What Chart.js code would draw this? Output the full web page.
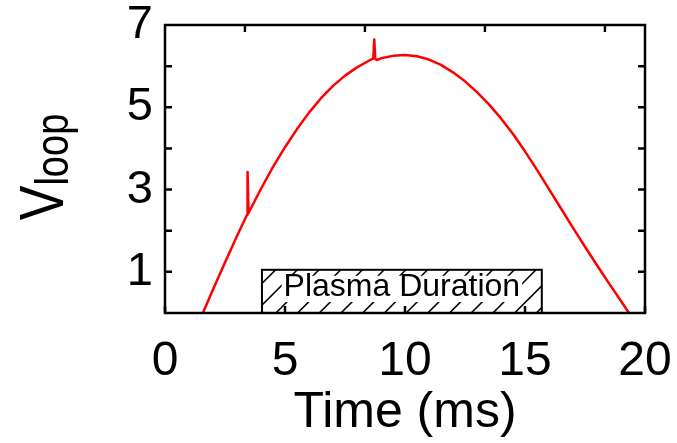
<!DOCTYPE html>
<html><head><meta charset="utf-8">
<script src="https://cdn.jsdelivr.net/npm/chart.js@4"></script>
<style>html,body{margin:0;padding:0;background:#fff}</style>
</head><body>
<canvas id="c" width="677" height="443"></canvas>
<script>
// ---- data ----
const timeMs = [1.58, 2.0, 2.5, 3.0, 3.42, 3.44, 3.48, 4.0, 4.5, 5.0, 5.5, 6.0, 6.5, 7.0, 7.5, 8.0, 8.4, 8.68, 8.72, 8.76, 8.85, 9.0, 9.5, 10.0, 10.5, 11.0, 11.5, 12.0, 12.5, 13.0, 13.5, 14.0, 14.5, 15.0, 15.5, 16.0, 16.5, 17.0, 17.5, 18.0, 18.5, 19.0, 19.33];
const vLoop  = [0.0, 0.57, 1.23, 1.87, 2.39, 3.43, 2.43, 3.02, 3.55, 4.03, 4.47, 4.87, 5.22, 5.52, 5.77, 5.97, 6.10, 6.19, 6.65, 6.17, 6.15, 6.19, 6.25, 6.27, 6.24, 6.16, 6.03, 5.85, 5.63, 5.37, 5.07, 4.73, 4.35, 3.93, 3.48, 3.01, 2.54, 2.07, 1.61, 1.16, 0.72, 0.29, 0.0];
const xTickValues = [0, 5, 10, 15, 20];
const yTickValues = [1, 3, 5, 7];
const yMinorTicks = [1, 2, 3, 4, 5, 6];
const topTickValues = [3.33, 8.33, 13.33, 18.33];
const plasmaStart = 4.04, plasmaEnd = 15.7, plasmaTop = 1.05;
const plasmaLabel = 'Plasma Duration';
const xTitle = 'Time (ms)';
const yTitleMain = 'V', yTitleSub = 'loop';

const FONT = '"Liberation Sans", Arial, sans-serif';
Chart.defaults.font.family = FONT;
Chart.defaults.color = '#000';

const framePlugin = {
  id: 'frame',
  afterDatasetsDraw(chart) {
    const {ctx, chartArea: a, scales: {x, y}} = chart;
    ctx.save();
    // plasma duration box
    const bx0 = x.getPixelForValue(plasmaStart), bx1 = x.getPixelForValue(plasmaEnd);
    const by0 = y.getPixelForValue(plasmaTop), by1 = y.getPixelForValue(0);
    const h = by1 - by0;
    ctx.save();
    ctx.beginPath(); ctx.rect(bx0, by0, bx1 - bx0, h); ctx.clip();
    ctx.strokeStyle = '#000'; ctx.lineWidth = 1.6;
    for (let sx = bx0 - 8 - h; sx < bx1 + h; sx += 21.7) {
      ctx.beginPath(); ctx.moveTo(sx, by1); ctx.lineTo(sx + h, by0); ctx.stroke();
    }
    ctx.restore();
    ctx.font = '32px ' + FONT;
    const tw = ctx.measureText(plasmaLabel).width;
    const cx = (bx0 + bx1) / 2;
    ctx.fillStyle = '#fff';
    ctx.fillRect(cx - tw / 2 - 2, by0 + 6, tw + 4, h - 17);
    ctx.fillStyle = '#000';
    ctx.textAlign = 'center'; ctx.textBaseline = 'alphabetic';
    ctx.fillText(plasmaLabel, cx, by0 + 26);
    ctx.lineWidth = 2;
    ctx.strokeRect(bx0, by0, bx1 - bx0, h);

    // border
    ctx.strokeStyle = '#000'; ctx.lineWidth = 2.5;
    ctx.strokeRect(a.left, a.top, a.right - a.left, a.bottom - a.top);
    // inward ticks
    const tl = 7;
    ctx.beginPath();
    xTickValues.forEach(v => { const p = x.getPixelForValue(v); ctx.moveTo(p, a.bottom); ctx.lineTo(p, a.bottom - tl); });
    topTickValues.forEach(v => { const p = x.getPixelForValue(v); ctx.moveTo(p, a.top); ctx.lineTo(p, a.top + tl); });
    yMinorTicks.forEach(v => { const p = y.getPixelForValue(v);
      ctx.moveTo(a.left, p); ctx.lineTo(a.left + tl, p);
      ctx.moveTo(a.right, p); ctx.lineTo(a.right - tl, p); });
    ctx.stroke();

    // y title V_loop (rotated)
    ctx.save();
    ctx.translate(63, (a.top + a.bottom) / 2 - 2);
    ctx.rotate(-Math.PI / 2);
    ctx.scale(1, 1.2);
    ctx.font = '52px ' + FONT;
    const wV = ctx.measureText(yTitleMain).width;
    ctx.font = '38px ' + FONT;
    const wS = ctx.measureText(yTitleSub).width;
    const start = -(wV + wS) / 2;
    ctx.textAlign = 'left'; ctx.textBaseline = 'alphabetic';
    ctx.font = '52px ' + FONT;
    ctx.fillText(yTitleMain, start, 0);
    ctx.font = '38px ' + FONT;
    ctx.fillText(yTitleSub, start + wV, 4);
    ctx.restore();
    ctx.restore();
  }
};

new Chart(document.getElementById('c'), {
  type: 'line',
  data: {
    datasets: [{
      data: timeMs.map((t, i) => ({x: t, y: vLoop[i]})),
      borderColor: '#ff0000', borderWidth: 2.5, pointRadius: 0, tension: 0,
      borderJoinStyle: 'round', fill: false
    }]
  },
  options: {
    responsive: false, animation: false, devicePixelRatio: 1,
    layout: {padding: {left: 0, top: 25, right: 32, bottom: 0}},
    plugins: {legend: {display: false}, tooltip: {enabled: false}},
    scales: {
      x: {
        type: 'linear', min: 0, max: 20,
        afterBuildTicks: s => { s.ticks = xTickValues.map(v => ({value: v})); },
        afterFit: s => { s.height = 130; s.paddingLeft = 0; s.paddingRight = 0; },
        grid: {display: false, drawTicks: false}, border: {display: false},
        ticks: {font: {size: 48}, padding: 20, color: '#000', maxRotation: 0, autoSkip: false},
        title: {display: true, text: xTitle, font: {size: 50}, padding: {top: 0, bottom: 0}, color: '#000'}
      },
      y: {
        type: 'linear', min: 0, max: 7,
        afterBuildTicks: s => { s.ticks = yTickValues.map(v => ({value: v})); },
        afterFit: s => { s.width = 165; s.paddingTop = 0; s.paddingBottom = 0; },
        grid: {display: false, drawTicks: false}, border: {display: false},
        ticks: {font: {size: 47}, padding: 12, color: '#000', autoSkip: false}
      }
    }
  },
  plugins: [framePlugin]
});
</script>
</body></html>
